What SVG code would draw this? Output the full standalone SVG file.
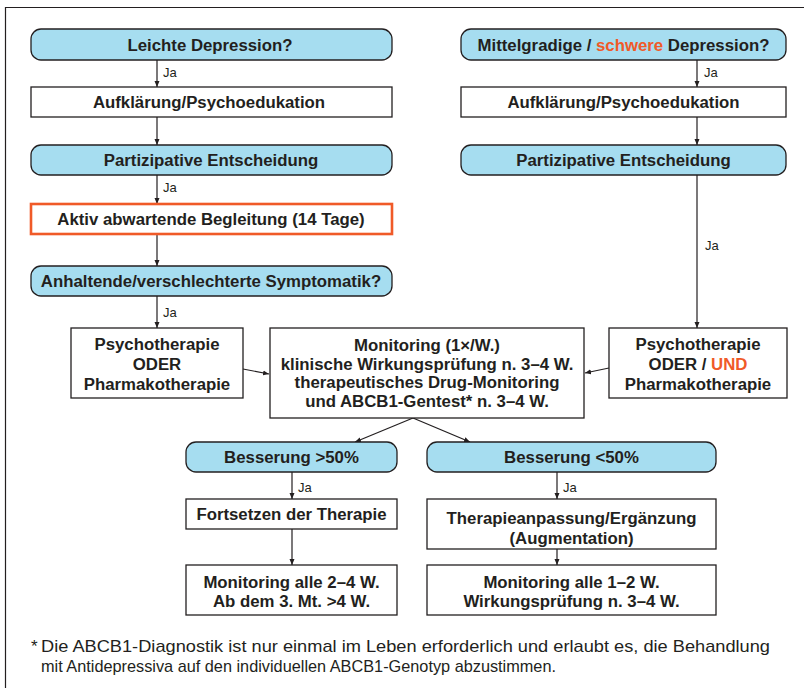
<svg xmlns="http://www.w3.org/2000/svg" width="804" height="688" viewBox="0 0 804 688">
<defs>
<marker id="ah" markerWidth="6" markerHeight="6" refX="6" refY="3" orient="auto" markerUnits="userSpaceOnUse">
<path d="M0,0.5 L6,3 L0,5.5 Z" fill="#231f20"/>
</marker>
<style>
.dec{fill:#a6ddf0;stroke:#231f20;stroke-width:1.3}
.box{fill:#ffffff;stroke:#231f20;stroke-width:1.3}
.hl{fill:#ffffff;stroke:#f05a28;stroke-width:2.6}
.t{font-family:"Liberation Sans",Arial,Helvetica,sans-serif;font-weight:bold;font-size:16.8px;fill:#231f20;text-anchor:middle}
.ja{font-family:"Liberation Sans",Arial,Helvetica,sans-serif;font-size:13px;fill:#231f20}
.fn{font-family:"Liberation Sans",Arial,Helvetica,sans-serif;font-size:17px;fill:#231f20}
.red{fill:#f05a28}
.c{stroke:#231f20;stroke-width:1.2;fill:none;marker-end:url(#ah)}
</style>
</defs>
<rect width="804" height="688" fill="#ffffff"/>
<path d="M5.5,700 V7.5 H820" fill="none" stroke="#231f20" stroke-width="1.2"/>

<g id="connectors">
<line class="c" x1="157" y1="60" x2="157" y2="87"/>
<line class="c" x1="157" y1="117" x2="157" y2="145"/>
<line class="c" x1="157" y1="175" x2="157" y2="204"/>
<line class="c" x1="157" y1="234" x2="157" y2="266"/>
<line class="c" x1="157" y1="296" x2="157" y2="328"/>
<line class="c" x1="243" y1="369" x2="269" y2="374"/>
<line class="c" x1="697" y1="60" x2="697" y2="87"/>
<line class="c" x1="697" y1="117" x2="697" y2="145"/>
<line class="c" x1="697" y1="175" x2="697" y2="328"/>
<line class="c" x1="609" y1="368" x2="585" y2="373"/>
<line class="c" x1="413" y1="418" x2="355" y2="442"/>
<line class="c" x1="413" y1="418" x2="470" y2="442"/>
<line class="c" x1="292" y1="472" x2="292" y2="499"/>
<line class="c" x1="557" y1="472" x2="557" y2="499"/>
<line class="c" x1="292" y1="529" x2="292" y2="565"/>
<line class="c" x1="557" y1="549" x2="557" y2="565"/>
<text class="ja" x="163" y="77">Ja</text>
<text class="ja" x="163" y="192">Ja</text>
<text class="ja" x="163" y="317">Ja</text>
<text class="ja" x="704" y="77">Ja</text>
<text class="ja" x="705" y="250">Ja</text>
<text class="ja" x="298" y="492">Ja</text>
<text class="ja" x="563" y="492">Ja</text>
</g>

<g id="leichte">
<rect class="dec" x="31" y="29" width="361" height="31" rx="10"/>
<text class="t" x="210" y="50.5">Leichte Depression?</text>
</g>
<g id="aufklaerung-l">
<rect class="box" x="31" y="87" width="361" height="30"/>
<text class="t" x="209" y="108">Aufklärung/Psychoedukation</text>
</g>
<g id="partizipativ-l">
<rect class="dec" x="31" y="145" width="361" height="30" rx="10"/>
<text class="t" x="211" y="166">Partizipative Entscheidung</text>
</g>
<g id="aktiv">
<rect class="hl" x="31" y="204" width="361" height="30"/>
<text class="t" x="211" y="225">Aktiv abwartende Begleitung (14 Tage)</text>
</g>
<g id="anhaltend">
<rect class="dec" x="31" y="266" width="361" height="30" rx="10"/>
<text class="t" x="211" y="287">Anhaltende/verschlechterte Symptomatik?</text>
</g>
<g id="psycho-l">
<rect class="box" x="71" y="328" width="172" height="70"/>
<text class="t" x="157" y="350">Psychotherapie</text>
<text class="t" x="157" y="370">ODER</text>
<text class="t" x="157" y="390">Pharmakotherapie</text>
</g>

<g id="mittelgradig">
<rect class="dec" x="461" y="29" width="325" height="31" rx="10"/>
<text class="t" x="623.5" y="50.5">Mittelgradige / <tspan class="red">schwere</tspan> Depression?</text>
</g>
<g id="aufklaerung-r">
<rect class="box" x="461" y="87" width="325" height="30"/>
<text class="t" x="623.5" y="108">Aufklärung/Psychoedukation</text>
</g>
<g id="partizipativ-r">
<rect class="dec" x="461" y="145" width="325" height="30" rx="10"/>
<text class="t" x="623.5" y="166">Partizipative Entscheidung</text>
</g>
<g id="psycho-r">
<rect class="box" x="609" y="328" width="178" height="70"/>
<text class="t" x="698" y="350">Psychotherapie</text>
<text class="t" x="698" y="370">ODER / <tspan class="red">UND</tspan></text>
<text class="t" x="698" y="390">Pharmakotherapie</text>
</g>

<g id="monitoring">
<rect class="box" x="270" y="328" width="314" height="90"/>
<text class="t" x="427" y="351">Monitoring (1×/W.)</text>
<text class="t" x="427" y="369.5">klinische Wirkungsprüfung n. 3–4 W.</text>
<text class="t" x="427" y="388">therapeutisches Drug-Monitoring</text>
<text class="t" x="427" y="406.5">und ABCB1-Gentest* n. 3–4 W.</text>
</g>

<g id="besserung-gt">
<rect class="dec" x="186" y="442" width="211" height="30" rx="10"/>
<text class="t" x="291.5" y="463">Besserung &gt;50%</text>
</g>
<g id="besserung-lt">
<rect class="dec" x="427" y="442" width="289" height="30" rx="10"/>
<text class="t" x="571.5" y="463">Besserung &lt;50%</text>
</g>
<g id="fortsetzen">
<rect class="box" x="186" y="499" width="211" height="30"/>
<text class="t" x="291.5" y="520">Fortsetzen der Therapie</text>
</g>
<g id="anpassung">
<rect class="box" x="427" y="499" width="289" height="50"/>
<text class="t" x="571.5" y="524">Therapieanpassung/Ergänzung</text>
<text class="t" x="571.5" y="543.5">(Augmentation)</text>
</g>
<g id="monitoring-l">
<rect class="box" x="186" y="565" width="211" height="50"/>
<text class="t" x="291.5" y="588">Monitoring alle 2–4 W.</text>
<text class="t" x="291.5" y="607">Ab dem 3. Mt. &gt;4 W.</text>
</g>
<g id="monitoring-r">
<rect class="box" x="427" y="565" width="289" height="50"/>
<text class="t" x="571.5" y="588">Monitoring alle 1–2 W.</text>
<text class="t" x="571.5" y="607">Wirkungsprüfung n. 3–4 W.</text>
</g>

<g id="footnote">
<text class="fn" x="31" y="652">*</text>
<text class="fn" x="41" y="652" textLength="729" lengthAdjust="spacingAndGlyphs">Die ABCB1-Diagnostik ist nur einmal im Leben erforderlich und erlaubt es, die Behandlung</text>
<text class="fn" x="41" y="672" textLength="515" lengthAdjust="spacingAndGlyphs">mit Antidepressiva auf den individuellen ABCB1-Genotyp abzustimmen.</text>
</g>
</svg>
